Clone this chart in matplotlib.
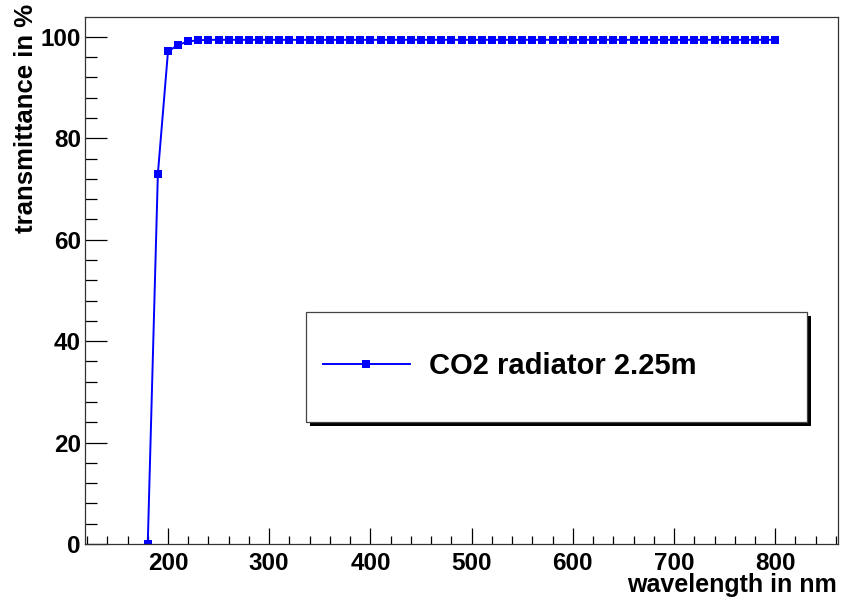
import matplotlib
matplotlib.use("Agg")
import matplotlib.pyplot as plt
from matplotlib.patches import Rectangle
from matplotlib.ticker import MultipleLocator

plt.rcParams['font.family'] = ['Liberation Sans', 'DejaVu Sans']
plt.rcParams['font.weight'] = 'bold'

# wavelength (nm) and transmittance (%)
wavelength = [180, 190, 200, 210, 220, 230, 240, 250, 260, 270,
              280, 290, 300, 310, 320, 330, 340, 350, 360, 370,
              380, 390, 400, 410, 420, 430, 440, 450, 460, 470,
              480, 490, 500, 510, 520, 530, 540, 550, 560, 570,
              580, 590, 600, 610, 620, 630, 640, 650, 660, 670,
              680, 690, 700, 710, 720, 730, 740, 750, 760, 770,
              780, 790, 800]
transmittance = [0.0, 73.0, 97.1, 98.4, 99.1, 99.3, 99.4, 99.4, 99.4, 99.4,
                 99.4, 99.4, 99.4, 99.4, 99.4, 99.4, 99.4, 99.4, 99.4, 99.4,
                 99.4, 99.4, 99.4, 99.4, 99.4, 99.4, 99.4, 99.4, 99.4, 99.4,
                 99.4, 99.4, 99.4, 99.4, 99.4, 99.4, 99.4, 99.4, 99.4, 99.4,
                 99.4, 99.4, 99.4, 99.4, 99.4, 99.4, 99.4, 99.4, 99.4, 99.4,
                 99.4, 99.4, 99.4, 99.4, 99.4, 99.4, 99.4, 99.4, 99.4, 99.4,
                 99.4, 99.4, 99.4]
series_label = "CO2 radiator 2.25m"

W, H = 841, 599
fig = plt.figure(figsize=(W / 100, H / 100), dpi=100)
ax = fig.add_axes([85 / W, 1 - 544 / H, (838 - 85) / W, (544 - 17) / H])

line, = ax.plot(wavelength, transmittance, color='#0000ff', lw=1.4,
                marker='s', markersize=5.8, markeredgewidth=0)

ax.set_xlim(118, 862)
ax.set_ylim(0, 103.9)

# ROOT-like axes: ticks inside, only on left/bottom
ax.xaxis.set_major_locator(MultipleLocator(100))
ax.xaxis.set_minor_locator(MultipleLocator(20))
ax.yaxis.set_major_locator(MultipleLocator(20))
ax.yaxis.set_minor_locator(MultipleLocator(4))
ax.tick_params(axis='x', which='major', direction='in', length=11.5, width=0.9, labelsize=17.5, pad=6)
ax.tick_params(axis='x', which='minor', direction='in', length=5.8, width=0.9)
ax.tick_params(axis='y', which='major', direction='in', length=16, width=0.9, labelsize=17.5, pad=3)
ax.tick_params(axis='y', which='minor', direction='in', length=8.6, width=0.9)
ax.set_xticks([200, 300, 400, 500, 600, 700, 800])
for s in ax.spines.values():
    s.set_linewidth(0.9)
    s.set_color('#333333')

fig.text(837 / W, 1 - 592 / H, "wavelength in nm", ha='right', va='baseline',
         fontsize=18, fontweight='bold')
fig.text(38 / W, 1 - 4 / H, "transmittance in %", rotation=90, ha='right', va='top',
         fontsize=18.5, fontweight='bold')

# legend box with ROOT style shadow
x0, y0, x1, y1 = 305.7, 312.3, 806.7, 421.7
fig.add_artist(Rectangle(((x0 + 4) / W, 1 - (y1 + 4) / H), (x1 - x0) / W, (y1 - y0) / H,
                         transform=fig.transFigure, facecolor='black', edgecolor='none', zorder=2))
fig.add_artist(Rectangle((x0 / W, 1 - y1 / H), (x1 - x0) / W, (y1 - y0) / H,
                         transform=fig.transFigure, facecolor='white', edgecolor='#444444',
                         lw=0.9, zorder=3))
fig.legend([line], [series_label], loc='center left', bbox_to_anchor=(323 / W, 1 - 366 / H),
           bbox_transform=fig.transFigure, frameon=False, borderpad=0, borderaxespad=0,
           handlelength=2.98, handletextpad=0.65, numpoints=1,
           prop={'size': 21, 'weight': 'bold'})

fig.savefig("out.png", dpi=100)
